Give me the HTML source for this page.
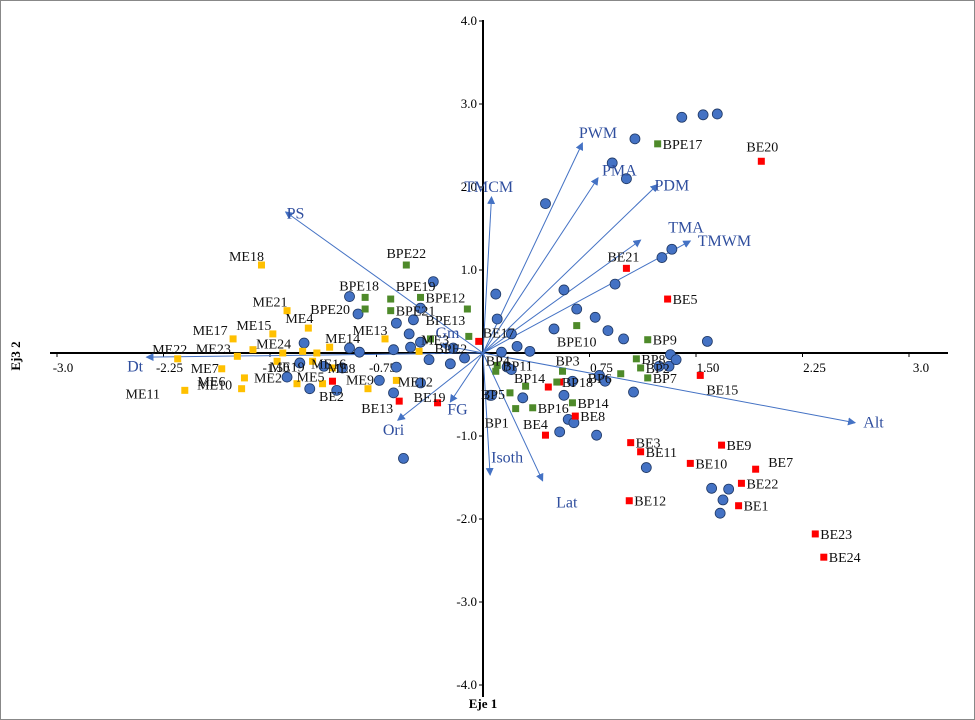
<!DOCTYPE html>
<html><head><meta charset="utf-8"><style>
body{margin:0;background:#fff}
svg{display:block;font-family:"Liberation Serif",serif}
</style></head><body>
<svg id="c" width="975" height="720">
<rect x="0.5" y="0.5" width="974" height="719" fill="#fff" stroke="#888"/>
<defs><marker id="ah" markerWidth="8" markerHeight="8" refX="7" refY="4" orient="auto"><path d="M0,0 L8,4 L0,8 z" fill="#4472c4"/></marker></defs>
<g id="axes"></g><g id="arrows"></g><g id="pts"></g><g id="lbls"></g>
<text x="483" y="708" text-anchor="middle" font-weight="bold" font-size="13">Eje 1</text>
<text x="0" y="0" transform="translate(20,356) rotate(-90)" text-anchor="middle" font-weight="bold" font-size="13">Ej3 2</text>
</svg>
<script>
const xTicks=[-3.0,-2.25,-1.5,-0.75,0.75,1.5,2.25,3.0];
const xTickLabels=["-3.0","-2.25","-1.50","-0.75","0.75","1.50","2.25","3.0"];
const yTicks=[4,3,2,1,-1,-2,-3,-4];
const yTickLabels=["4.0","3.0","2.0","1.0","-1.0","-2.0","-3.0","-4.0"];
const blueX=[-1.26,-0.94,-0.87,-1.29,-1.12,-0.99,-1.38,-1.22,-1.03,-0.94,-0.88,-0.35,-0.44,-0.49,-0.61,-0.52,-0.44,-0.51,-0.63,-0.61,-0.73,-0.63,-0.44,-0.38,-0.23,-0.13,-0.21,0.05,0.09,0.10,0.20,0.24,0.33,0.13,0.17,0.20,0.06,0.28,0.57,0.66,0.79,0.50,0.88,0.99,1.58,1.32,1.31,1.24,1.36,0.82,0.63,0.86,1.06,0.57,0.60,0.54,0.80,1.40,1.55,1.65,1.07,0.91,1.01,0.44,0.93,1.26,1.33,0.64,1.15,1.61,1.73,1.69,1.67,-0.56];
const blueY=[0.12,0.06,0.01,-0.12,-0.16,-0.18,-0.29,-0.43,-0.45,0.68,0.47,0.86,0.54,0.40,0.36,0.23,0.13,0.07,0.04,-0.17,-0.33,-0.48,-0.36,-0.08,-0.13,-0.06,0.06,-0.51,0.71,0.41,0.23,0.08,0.02,0.01,-0.17,-0.20,-0.51,-0.54,0.76,0.53,0.43,0.29,0.27,0.17,0.14,-0.02,-0.16,-0.16,-0.08,-0.27,-0.34,-0.34,-0.47,-0.51,-0.80,-0.95,-0.99,2.84,2.87,2.88,2.58,2.29,2.10,1.80,0.83,1.15,1.25,-0.84,-1.38,-1.63,-1.64,-1.77,-1.93,-1.27];
const beNames=["BE20","BE21","BE5","BE15","BE17","BE19","BE13","BE2","BE4","BE8","BE3","BE11","BE9","BE10","BE7","BE22","BE1","BE12","BE23","BE24","",""];
const beX=[1.96,1.01,1.30,1.53,-0.03,-0.32,-0.59,-1.06,0.44,0.65,1.04,1.11,1.68,1.46,1.92,1.82,1.80,1.03,2.34,2.40,0.46,0.54];
const beY=[2.31,1.02,0.65,-0.27,0.14,-0.60,-0.58,-0.34,-0.99,-0.76,-1.08,-1.19,-1.11,-1.33,-1.40,-1.57,-1.84,-1.78,-2.18,-2.46,-0.41,-0.35];
const bpNames=["BPE17","BPE22","BPE18","BPE19","BPE12","BPE20","BPE21","BPE13","","BPE2","BPE10","BP9","BP8","BP2","BP7","BP4","BP3","BP5","BP1","BP16","BP14","BP18","BP11","BP14b","BP6"];
const bpX=[1.23,-0.54,-0.83,-0.65,-0.44,-0.83,-0.65,-0.11,-0.37,-0.10,0.66,1.16,1.08,1.11,1.16,0.09,0.56,0.19,0.23,0.35,0.63,0.52,0.10,0.30,0.97];
const bpY=[2.52,1.06,0.67,0.65,0.67,0.53,0.51,0.53,0.17,0.20,0.33,0.16,-0.07,-0.18,-0.30,-0.22,-0.22,-0.48,-0.67,-0.66,-0.60,-0.35,-0.15,-0.40,-0.25];
const meNames=["ME22","ME23","","","ME24","","ME15","ME17","ME21","ME4","ME14","ME7","ME6","ME10","ME11","ME2","ME5","ME8","ME9","ME12","ME13","ME3","ME19","ME16","ME18"];
const meX=[-2.15,-1.73,-1.62,-1.41,-1.27,-1.17,-1.48,-1.76,-1.38,-1.23,-1.08,-1.84,-1.68,-1.70,-2.10,-1.31,-1.13,-1.06,-0.81,-0.61,-0.69,-0.45,-1.45,-1.20,-1.56];
const meY=[-0.07,-0.04,0.04,0.00,0.02,0.00,0.23,0.17,0.51,0.30,0.07,-0.19,-0.30,-0.43,-0.45,-0.37,-0.37,-0.18,-0.43,-0.33,0.17,0.02,-0.10,-0.10,1.06];
const varNames=["PS","Dt","TMCM","PWM","PMA","PDM","TMA","TMWM","Alt","Lat","Isoth","Ori","FG","Gm"];
const varX=[-1.39,-2.37,0.06,0.70,0.81,1.23,1.11,1.46,2.62,0.42,0.05,-0.60,-0.23,-0.30];
const varY=[1.70,-0.05,1.88,2.53,2.11,2.03,1.36,1.35,-0.84,-1.54,-1.47,-0.81,-0.59,0.10];
const varLX=[-1.32,-2.45,0.04,0.81,0.96,1.33,1.43,1.70,2.75,0.59,0.17,-0.63,-0.18,-0.25];
const varLY=[1.68,-0.16,2.0,2.65,2.20,2.02,1.51,1.35,-0.84,-1.80,-1.26,-0.93,-0.68,0.24];

// label offsets (layout only): text centre relative to point
const labelOff={BE20:[1,-15],BE21:[-3,-12],BE15:[22,14],BE17:[20,-9],BE19:[-8,-6],BE13:[-22,7],BE2:[-1,15],BE4:[-10,-11],BE7:[25,-7],
BPE22:[0,-12],BPE18:[-6,-12],BPE19:[25,-13],BPE20:[-35,0],BPE13:[-22,11],BPE2:[-18,12],BPE10:[0,16],BP4:[2,-11],BP3:[5,-11],BP5:[-17,1],BP1:[-19,14],BP6:[-21,4],BP14b:[4,-8],
ME22:[-8,-10],ME23:[-24,-8],ME24:[-29,-8],ME15:[-19,-9],ME17:[-23,-9],ME21:[-17,-9],ME4:[-9,-10],ME14:[13,-9],ME7:[-17,-1],ME6:[-33,3],ME10:[-27,-4],ME11:[-42,3],ME2:[-29,-6],ME5:[-12,-7],ME8:[9,0],ME9:[-8,-9],ME12:[19,1],ME3:[16,-12],ME13:[-15,-9],ME19:[10,5],ME16:[16,2],ME18:[-15,-9]};

const OX=483,OY=353,SX=142,SY=83;
const X=v=>OX+v*SX, Y=v=>OY-v*SY;
const NS="http://www.w3.org/2000/svg";
function mk(p,t,a){const e=document.createElementNS(NS,t);for(const k in a)e.setAttribute(k,a[k]);p.appendChild(e);return e;}
const ax=document.getElementById('axes'),ar=document.getElementById('arrows'),pt=document.getElementById('pts'),lb=document.getElementById('lbls');
let e;
e=mk(ax,'line',{x1:50,y1:OY,x2:948,y2:OY,stroke:'#000','stroke-width':2});


e=mk(ax,'line',{x1:OX,y1:20,x2:OX,y2:697,stroke:'#000','stroke-width':2});


xTicks.forEach((v,i)=>{
 mk(ax,'line',{x1:X(v),y1:OY,x2:X(v),y2:OY+4,stroke:'#000'});
 e=mk(ax,'text',{x:X(v)+(v>0?12:6),y:OY+19,'text-anchor':'middle','font-size':13});
 e.textContent=xTickLabels[i];
 
 
});
yTicks.forEach((v,i)=>{
 mk(ax,'line',{x1:OX-4,y1:Y(v),x2:OX,y2:Y(v),stroke:'#000'});
 e=mk(ax,'text',{x:OX-6,y:Y(v)+4,'text-anchor':'end','font-size':13});
 e.textContent=yTickLabels[i];
 
 
});
varNames.forEach((n,i)=>{
 e=mk(ar,'line',{x1:OX,y1:OY,x2:X(varX[i]),y2:Y(varY[i]),stroke:'#4472c4','stroke-width':1,'marker-end':'url(#ah)'});
 
 
 e=mk(lb,'text',{x:X(varLX[i]),y:Y(varLY[i])+5,'text-anchor':'middle','font-size':16,fill:'#2f4e9e'});
 e.textContent=n;
 
 
});
blueX.forEach((v,i)=>{
 e=mk(pt,'circle',{cx:X(v),cy:Y(blueY[i]),r:5,fill:'#4472c4',stroke:'#1f3864','stroke-width':0.8});
 
 
});
function sq(xs,ys,names,col,nm){
 xs.forEach((v,i)=>{
  e=mk(pt,'rect',{x:X(v)-3.5,y:Y(ys[i])-3.5,width:7,height:7,fill:col});
  
  
  const n=names[i];
  if(n){
   const txt=n.replace(/b$/,'');
   const o=labelOff[n];
   if(o){e=mk(lb,'text',{x:X(v)+o[0],y:Y(ys[i])+o[1]+5,'text-anchor':'middle','font-size':14,fill:'#111'});}
   else{e=mk(lb,'text',{x:X(v)+5,y:Y(ys[i])+5,'font-size':14,fill:'#111'});}
   e.textContent=txt;
   
   
  }
 });
}
sq(beX,beY,beNames,'#ff0000','be');
sq(bpX,bpY,bpNames,'#4e8a2a','bp');
sq(meX,meY,meNames,'#ffc000','me');
</script>
</body></html>
